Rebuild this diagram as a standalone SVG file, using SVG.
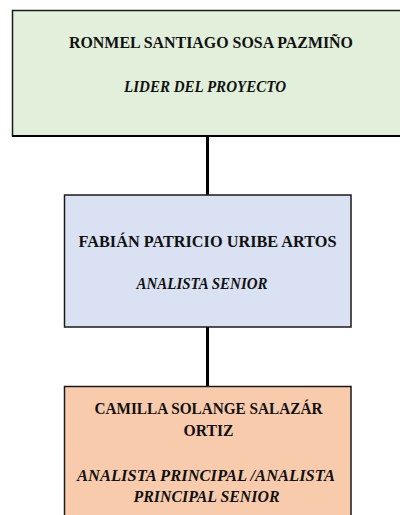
<svg xmlns="http://www.w3.org/2000/svg" width="400" height="515" viewBox="0 0 400 515">
<style>
.box{stroke:#1a1a1a;stroke-width:1.5}
.n{font-family:"Liberation Serif","DejaVu Serif",serif;font-weight:bold;font-size:16.5px;fill:#111;text-anchor:middle}
.r{font-family:"Liberation Serif","DejaVu Serif",serif;font-weight:bold;font-style:italic;font-size:16.5px;fill:#111;text-anchor:middle}
.c{stroke:#000;stroke-width:3;fill:none}
</style>
<rect width="400" height="515" fill="#fff"/>
<g id="connectors">
<line class="c" x1="207.5" y1="136" x2="207.5" y2="195"/>
<line class="c" x1="207.5" y1="327" x2="207.5" y2="386"/>
</g>
<g id="node1">
<rect class="box" x="12.5" y="10.5" width="400" height="125.5" fill="#E2EFDA"/>
<line x1="12" y1="136" x2="400" y2="136" stroke="#000" stroke-width="2"/>
<text class="n" x="211" y="48" textLength="284" lengthAdjust="spacingAndGlyphs">RONMEL SANTIAGO SOSA PAZMIÑO</text>
<text class="r" x="205" y="92" textLength="162" lengthAdjust="spacingAndGlyphs">LIDER DEL PROYECTO</text>
</g>
<g id="node2">
<rect class="box" x="64.5" y="195" width="286.5" height="132" fill="#D9E1F2"/>
<text class="n" x="207.5" y="247" textLength="258" lengthAdjust="spacingAndGlyphs">FABIÁN PATRICIO URIBE ARTOS</text>
<text class="r" x="202" y="289" textLength="131" lengthAdjust="spacingAndGlyphs">ANALISTA SENIOR</text>
</g>
<g id="node3">
<rect class="box" x="64.5" y="386.5" width="286.5" height="140" fill="#F8CBAD"/>
<text class="n" x="208.5" y="414" textLength="228" lengthAdjust="spacingAndGlyphs">CAMILLA SOLANGE SALAZÁR</text>
<text class="n" x="208.5" y="436" textLength="50" lengthAdjust="spacingAndGlyphs">ORTIZ</text>
<text class="r" x="206" y="481" textLength="258" lengthAdjust="spacingAndGlyphs">ANALISTA PRINCIPAL /ANALISTA</text>
<text class="r" x="206.5" y="502" textLength="146" lengthAdjust="spacingAndGlyphs">PRINCIPAL SENIOR</text>
</g>
</svg>
